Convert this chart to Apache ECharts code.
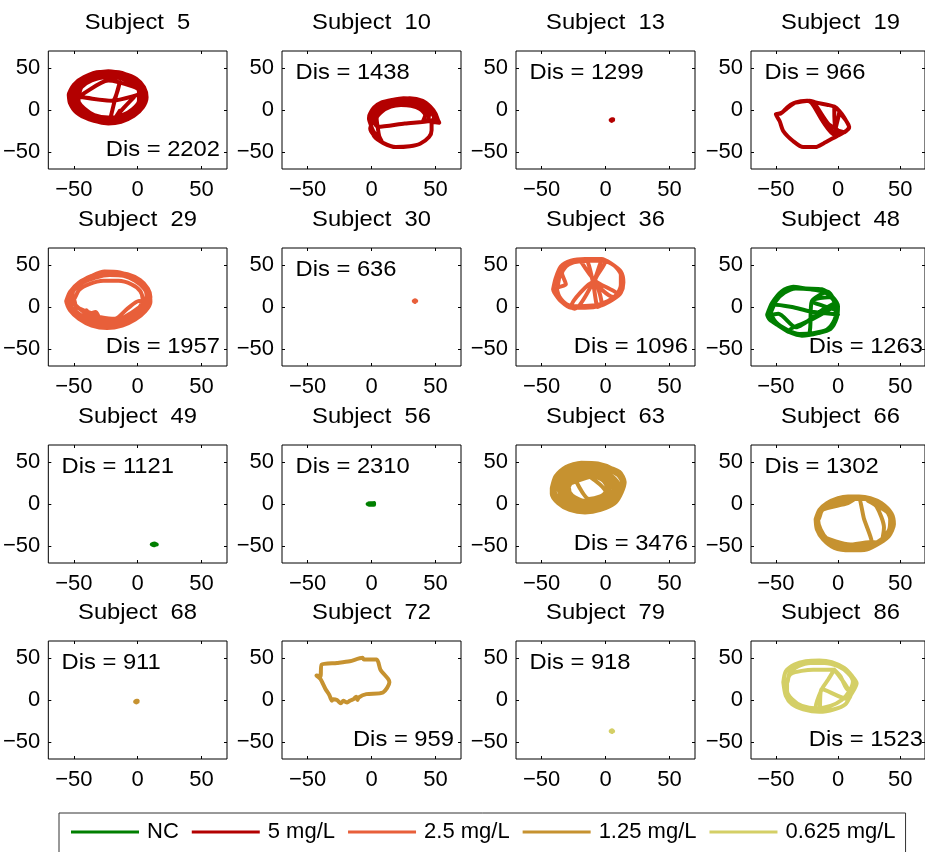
<!DOCTYPE html>
<html>
<head>
<meta charset="utf-8">
<script src="https://cdn.jsdelivr.net/npm/echarts@6/dist/echarts.min.js"></script>
<style>
  html, body { margin: 0; padding: 0; background: #fff; }
  #chart { width: 925px; height: 852px; }
</style>
</head>
<body>
<div id="chart"></div>
<script>
// ---- data ---------------------------------------------------------------
const subjects = [5, 10, 13, 19, 29, 30, 36, 48, 49, 56, 63, 66, 68, 72, 79, 86];
const doseGroups = ['5 mg/L', '5 mg/L', '5 mg/L', '5 mg/L',
                    '2.5 mg/L', '2.5 mg/L', '2.5 mg/L', 'NC',
                    'NC', 'NC', '1.25 mg/L', '1.25 mg/L',
                    '1.25 mg/L', '1.25 mg/L', '0.625 mg/L', '0.625 mg/L'];
const distances = [2202, 1438, 1299, 966, 1957, 636, 1096, 1263,
                   1121, 2310, 3476, 1302, 911, 959, 918, 1523];
const legendNames = ['NC', '5 mg/L', '2.5 mg/L', '1.25 mg/L', '0.625 mg/L'];
const tickValues = [-50, 0, 50];
const axisRange = [-70, 70];

// swimming tracks, [x, y] per sample
const traj5 = [[-53,15],[-51,26],[-45,36],[-35,43],[-23,46],[-11,43],[-1,37],[5,27],[7,15],[4,3],[-3,-7],[-13,-14],[-23,-16],[-34,-13],[-44,-6],[-51,4],[-53,15],
  [-50,17],[-47,28],[-40,37],[-30,42],[-19,43],[-8,39],[0,31],[4,20],[3,8],[-2,-2],[-11,-10],[-22,-13],[-33,-11],[-42,-4],[-48,6],[-50,17],
  [-47,16],[-44,27],[-36,35],[-25,39],[-14,38],[-5,32],[1,22],[1,11],[-4,1],[-12,-6],[-23,-9],[-34,-6],[-42,2],[-46,9],[-47,16],
  [-54,18],[-50,30],[-42,39],[-30,45],[-17,45],[-6,40],[2,31],[6,19],[4,6],[-2,-4],[-12,-12],[-25,-15],[-38,-11],[-48,-3],[-53,8],[-54,18],
  [-48,14],[-46,25],[-39,34],[-30,39],[-20,41],[-9,37],[-1,29],[3,18],[1,7],[-4,-2],[-13,-9],[-24,-11],[-35,-8],[-43,0],[-47,7],[-48,14],
  [-52,16],[-49,28],[-41,38],[-31,43],[-20,45],[-9,41],[-1,34],[4,24],[5,12],[1,1],[-7,-8],[-18,-13],[-30,-12],[-41,-7],[-49,3],[-52,16],
  [-43,15],[-20,11],[-2,17],[4,21],[-4,28],[-23,35],[-42,20],[-44,17],[-43,15],[-20,11],[-14,33],[-18,11],[-22,-14],[-19,-13],[-14,-1],[-17,-8],[-10,4],[-3,15]];

const traj10 = [[-1,-4],[2,3],[8,9],[16,12],[25,14],[34,13],[42,8],[48,0],[51,-9],[53,-15],[47,-14],[47,-24],[45,-32],[38,-40],[30,-43],[19,-44],[9,-39],[2,-31],[0,-20],[-2,-10],[-1,-4],
  [3,2],[9,7],[17,10],[26,12],[35,11],[43,5],[47,-3],[49,-10],[46,-13],[26,-16],[5,-20],[2,-12],[3,-4],[7,2],[13,5],[20,8],[28,9],[36,7],[42,1],[45,-6],[44,-12],[40,-14],[42,-6],[38,1],[31,5],[23,6],[15,4],[8,-2],[4,-10],[5,-22],[6,-31],[8,-37],[2,-30],[-1,-22],[1,-12],[0,-6],[4,-1],[10,6],[20,11],[30,14],[40,11],[46,4],[50,-4],[52,-12],
  [49,-6],[44,3],[37,9],[28,12],[19,11],[11,8],[5,3],[1,-5],[-1,-14],[1,-24],[5,-33]];

const traj13 = [[5,-12],[6,-12],[5,-11],[4,-12],[5,-13],[6,-11]];

const traj19 = [[-50,-5],[-45,-3],[-41,3],[-36,8],[-29,10],[-23,11],[-18,9],[-8,6],[-3,4],[1,-1],[5,-9],[9,-21],[4,-27],[-1,-31],[-12,-40],[-18,-44],[-28,-44],[-36,-37],[-44,-25],[-47,-13],[-50,-5],
  [-46,-4],[-41,2],[-34,9],[-25,11],[-21,8],[-12,-14],[-3,-29],[2,-27],[-8,-16],[-19,8],[-22,10],[-10,-15],[-1,-30],[4,-26],[-2,-23],[-3,3],[1,-2],[-2,-24],[4,-27],[9,-20],[1,-3]];

const traj29 = [[-56,7],[-53,18],[-46,29],[-36,37],[-26,42],[-14,41],[-4,36],[4,28],[9,17],[10,6],[6,-5],[-2,-15],[-12,-22],[-24,-25],[-36,-22],[-46,-14],[-53,-4],[-56,7],
  [-53,8],[-50,20],[-43,29],[-33,35],[-22,38],[-11,37],[-2,31],[5,22],[8,11],[6,0],[0,-10],[-10,-17],[-22,-21],[-34,-19],[-44,-12],[-51,-2],[-53,8],
  [-50,9],[-46,20],[-38,27],[-27,31],[-15,31],[-5,27],[2,19],[4,9],[1,-1],[-7,-10],[-19,-15],[-32,-14],[-42,-8],[-40,-4],[-38,-8],[-33,-6],[-31,-10],[-48,0],[-50,9],
  [-55,5],[-52,19],[-44,31],[-32,39],[-20,41],[-8,39],[2,32],[8,22],[10,12],[8,1],[1,-11],[-10,-19],[-23,-23],[-37,-20],[-48,-10],[-55,5],
  [-54,9],[-51,21],[-44,30],[-34,36],[-23,40],[-12,39],[-3,34],[4,25],[7,14],[6,2],[0,-8],[-11,-15],[-23,-18],[-35,-16],[-45,-9],[-52,0],[-54,9],
  [-50,4],[-40,-8],[-18,-14],[-8,-2],[1,7],[5,6],[-6,-8],[-16,-16],[-28,-19]];

const traj30 = [[34,7],[35,7],[34,8],[33,7],[34,6]];

const traj36 = [[-41,21],[-39,34],[-35,48],[-27,55],[-16,57],[-3,57],[4,52],[12,42],[14,29],[12,17],[6,9],[-3,2],[-16,-1],[-27,-1],[-35,7],[-40,17],[-41,21],
  [-38,22],[-36,36],[-33,46],[-25,53],[-13,55],[-2,55],[7,49],[12,38],[12,26],[9,15],[2,7],[-8,2],[-20,1],[-30,3],[-36,12],[-38,22],
  [-31,27],[-34,40],[-28,52],[-16,57],[-10,31],[-6,0],[-3,3],[-9,30],[-27,0],[-24,-2],[-9,31],[-2,56],[0,55],[-8,32],[6,12],[9,15],[-8,31],[-20,56]];

const traj48 = [[-57,-9],[-53,5],[-45,19],[-36,24],[-26,22],[-13,21],[-5,13],[0,1],[-1,-13],[-6,-26],[-16,-31],[-29,-34],[-39,-30],[-48,-22],[-55,-15],[-57,-9],
  [-54,-6],[-50,7],[-43,17],[-34,22],[-22,21],[-11,18],[-4,9],[-1,-3],[-3,-16],[-9,-27],[-20,-31],[-31,-32],[-41,-27],[-50,-18],[-54,-6],
  [-53,3],[-37,0],[-23,-5],[0,-9],[-3,-3],[-21,7],[-8,18],[-5,13],[-21,7],[-23,-31],[-30,-33],[-39,-28],[-20,-14],[-5,-1],[-2,5],[-12,-3],[-34,-24],[-48,-8],[-56,-10]];

const traj49 = [[12,-48],[14,-48],[15,-48],[13,-47],[11,-48],[13,-49]];

const traj56 = [[-3,0],[-1,1],[1,1],[2,0],[1,-1],[-1,-1],[-3,0],[0,0],[2,1],[2,-1],[-2,-1],[-2,1]];

const traj63 = [[-42,19],[-39,33],[-31,44],[-19,49],[-6,48],[5,42],[12,32],[14,22],[12,13],[6,1],[-4,-7],[-16,-10],[-28,-7],[-37,1],[-42,12],[-42,19],
  [-40,21],[-36,34],[-27,43],[-15,46],[-3,44],[7,37],[14,28],[12,24],[13,18],[8,6],[0,-3],[-12,-7],[-25,-5],[-34,2],[-39,11],[-40,21],
  [-37,20],[-34,31],[-26,39],[-15,42],[-4,40],[5,33],[10,23],[9,12],[3,2],[-7,-4],[-19,-4],[-29,1],[-35,9],[-37,20],
  [-33,19],[-30,29],[-23,36],[-13,38],[-3,35],[4,27],[6,17],[2,8],[-5,1],[-16,0],[-25,3],[-31,10],[-33,19],
  [-29,20],[-26,28],[-19,33],[-10,33],[-2,28],[1,20],[-1,11],[-8,5],[-17,4],[-24,8],[-28,14],[-29,20],
  [-41,17],[-38,31],[-29,42],[-17,48],[-5,46],[6,40],[12,30],[13,20],[10,9],[3,-1],[-8,-8],[-20,-9],[-31,-4],[-38,5],[-41,17],
  [-35,19],[-32,30],[-24,37],[-14,40],[-4,38],[4,30],[8,20],[6,10],[0,3],[-10,-2],[-21,-2],[-29,4],[-34,12],[-35,19],
  [-31,21],[-28,30],[-20,35],[-11,36],[-2,31],[3,22],[2,13],[-4,5],[-14,2],[-23,4],[-29,11],[-31,21],
  [-28,24],[-15,31],[-6,35],[-25,34],[-13,6],[-4,9],[0,14],[-20,37],[-38,25],[-41,15],[-36,5],[-22,-8],[-8,-8],[8,2],[15,26],[11,38],[-3,46]];

const traj66 = [[-18,-18],[-15,-7],[-9,1],[0,7],[8,9],[17,9],[26,7],[35,1],[43,-11],[45,-24],[41,-38],[34,-46],[23,-54],[10,-55],[-3,-52],[-12,-42],[-17,-30],[-18,-18],
  [-16,-19],[-13,-8],[-6,-1],[3,4],[12,6],[21,6],[30,3],[38,-6],[42,-18],[41,-31],[35,-42],[25,-50],[12,-52],[0,-49],[-9,-41],[-14,-30],[-16,-19],
  [-13,-7],[8,1],[16,8],[21,-18],[27,-44],[10,-48],[-13,-38],[-15,-30],[-11,-41],[2,-50],[27,-45],[34,-46],[37,-28],[31,-3],[24,4],[40,-10],[44,-22],[40,-36]];

const traj68 = [[-1,-2],[0,-2],[-1,-1],[-2,-2],[-1,-3],[0,-1]];

const traj72 = [[-43,29],[-40,28],[-39,42],[-27,44],[-17,46],[-7,50],[-6,48],[4,48],[7,36],[13,25],[14,21],[9,9],[-4,7],[-10,3],[-11,0],[-12,4],[-14,1],[-17,-1],[-19,-3],[-22,-1],[-24,-4],[-27,0],[-30,1],[-31,-1],[-32,2],[-33,6],[-36,13],[-40,25],[-43,29]];

const traj79 = [[5,-37],[6,-37],[5,-36],[4,-37],[5,-38]];

const traj86 = [[-44,21],[-42,34],[-35,42],[-26,46],[-15,47],[-5,45],[5,38],[11,29],[15,20],[10,5],[6,-5],[-3,-11],[-15,-14],[-28,-11],[-37,-5],[-42,5],[-44,21],
  [-41,20],[-39,32],[-32,40],[-22,44],[-11,44],[0,40],[8,32],[12,22],[9,10],[3,0],[-6,-7],[-17,-10],[-29,-7],[-37,1],[-41,11],[-41,20],
  [-38,31],[-20,36],[-3,36],[-8,24],[-13,13],[-18,-9],[-15,-12],[-13,13],[8,1],[10,5],[-3,36],[2,28],[8,12],[13,16],[12,24]];

const trajectories = [traj5, traj10, traj13, traj19, traj29, traj30, traj36, traj48,
                      traj49, traj56, traj63, traj66, traj68, traj72, traj79, traj86];

// ---- layout & style -----------------------------------------------------
const groupColors = {
  'NC': '#007f00',
  '5 mg/L': '#b30000',
  '2.5 mg/L': '#e85f3a',
  '1.25 mg/L': '#c69230',
  '0.625 mg/L': '#d4cf66'
};
// where the "Dis = ..." note sits inside each panel
const noteCorner = ['br', 'tl', 'tl', 'tl', 'br', 'tl', 'br', 'br',
                    'tl', 'tl', 'br', 'tl', 'tl', 'br', 'tl', 'br'];
const colLeft = [48, 282, 516, 751];
const rowTop = [51, 248, 445, 641];
const boxW = 179, boxH = 118;
const FONT = '"Liberation Sans", Arial, Helvetica, sans-serif';
const TEXT_STRETCH = 1.08;

const tickFmt = v => (v < 0 ? '\u2212' + Math.abs(v) : String(v));

const grids = [], xAxes = [], yAxes = [], series = [], graphics = [];

subjects.forEach((id, i) => {
  const c = i % 4, r = Math.floor(i / 4);
  const L = colLeft[c], T = rowTop[r];
  const color = groupColors[doseGroups[i]];

  grids.push({
    left: L, top: T, width: boxW, height: boxH,
    show: true, borderColor: '#000', borderWidth: 1, backgroundColor: '#fff'
  });

  const tick = { show: true, inside: true, length: 3, customValues: tickValues,
                 lineStyle: { color: '#000', width: 1 } };
  const label = { show: true, customValues: tickValues, fontSize: 22, fontFamily: FONT,
                  color: '#000', formatter: tickFmt };
  const base = { type: 'value', min: axisRange[0], max: axisRange[1], gridIndex: i,
                 splitLine: { show: false }, axisLine: { show: false, onZero: false },
                 axisTick: tick };

  xAxes.push(Object.assign({}, base, { position: 'bottom', axisLabel: Object.assign({}, label, { margin: 10 }) }));
  xAxes.push(Object.assign({}, base, { position: 'top', axisLabel: { show: false } }));
  yAxes.push(Object.assign({}, base, { position: 'left', axisLabel: Object.assign({}, label, { margin: 8 }) }));
  yAxes.push(Object.assign({}, base, { position: 'right', axisLabel: { show: false } }));

  series.push({
    type: 'line',
    name: doseGroups[i],
    xAxisIndex: 2 * i,
    yAxisIndex: 2 * i,
    data: trajectories[i],
    showSymbol: false,
    symbol: 'none',
    smooth: 0.25,
    silent: true,
    clip: true,
    lineStyle: { width: 4, color: color, cap: 'round', join: 'round' },
    itemStyle: { color: color },
    z: 2
  });

  graphics.push({
    type: 'text',
    x: L + boxW / 2, y: T - 28.5, scaleX: TEXT_STRETCH,
    style: { text: 'Subject  ' + id, fontSize: 22, fontFamily: FONT, fill: '#000',
             align: 'center', verticalAlign: 'middle' },
    z: 10
  });

  const tl = noteCorner[i] === 'tl';
  graphics.push({
    type: 'text',
    x: tl ? L + 13.5 : L + boxW - 7,
    y: tl ? T + 22 : T + 99,
    scaleX: TEXT_STRETCH,
    style: { text: 'Dis = ' + distances[i], fontSize: 22, fontFamily: FONT, fill: '#000',
             align: tl ? 'left' : 'right', verticalAlign: 'middle' },
    z: 10
  });
});

const chart = echarts.init(document.getElementById('chart'), null, { renderer: 'canvas' });
chart.setOption({
  animation: false,
  backgroundColor: '#fff',
  grid: grids,
  xAxis: xAxes,
  yAxis: yAxes,
  series: series,
  graphic: graphics,
  legend: {
    data: legendNames,
    left: 59, top: 813,
    padding: [8, 10, 10, 12],
    itemGap: 13,
    itemWidth: 68, itemHeight: 3,
    icon: 'rect',
    borderColor: '#333', borderWidth: 1, backgroundColor: '#fff',
    selectedMode: false,
    textStyle: { fontSize: 22, fontFamily: FONT, color: '#000', padding: [0, 0, 0, 3] }
  }
});
</script>
</body>
</html>
